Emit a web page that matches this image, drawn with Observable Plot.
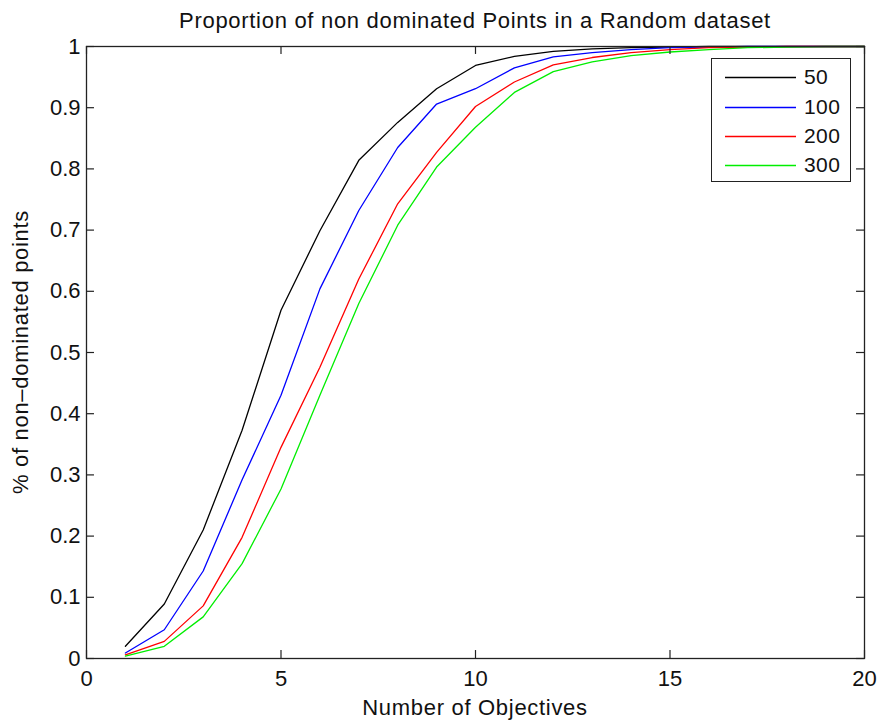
<!DOCTYPE html>
<html>
<head>
<meta charset="utf-8">
<script src="https://cdn.jsdelivr.net/npm/d3@7"></script>
<script src="https://cdn.jsdelivr.net/npm/@observablehq/plot@0.6"></script>
<style>
  body { margin: 0; background: #fff; }
  #wrap { position: relative; width: 879px; height: 721px; font-family: "Liberation Sans", Arial, sans-serif; color: #111; }
  #title { position: absolute; left: 86px; width: 778px; top: 10px; line-height: 22px; font-size: 22px; letter-spacing: 0.7px; text-align: center; white-space: nowrap; }
  #chart { position: absolute; left: 0; top: 40px; }
  #xlabel { position: absolute; left: 86px; width: 778px; top: 697px; line-height: 22px; font-size: 22px; letter-spacing: 0.7px; text-align: center; white-space: nowrap; }
  #ylabel { position: absolute; left: 21px; top: 352px; font-size: 22px; line-height: 22px; letter-spacing: 0.7px; white-space: nowrap; transform: translate(-50%, -50%) rotate(-90deg); }
  #legend { position: absolute; left: 711px; top: 58px; width: 140px; height: 124px; border: 1.3px solid #222; background: #fff; box-sizing: border-box; }
  .row { position: absolute; left: 0; height: 24px; width: 140px; }
  .row svg { position: absolute; left: 13px; top: 11px; }
  .row span { position: absolute; left: 92px; top: 0; font-size: 21px; line-height: 24px; letter-spacing: 0.4px; }
</style>
</head>
<body>
<div id="wrap">
  <div id="title"></div>
  <div id="chart"></div>
  <div id="xlabel"></div>
  <div id="ylabel"></div>
  <div id="legend"></div>
</div>
<script>
// Number of objectives (dimensions) tested
const objectives = [1, 2, 3, 4, 5, 6, 7, 8, 9, 10, 11, 12, 13, 14, 15, 16, 17, 18, 19, 20];

// Fraction of non-dominated points for each dataset size
const points50  = [0.020, 0.089, 0.210, 0.373, 0.569, 0.699, 0.814, 0.876, 0.931, 0.969, 0.984, 0.992, 0.996, 0.998, 0.999, 1.000, 1.000, 1.000, 1.000, 1.000];
const points100 = [0.009, 0.047, 0.143, 0.292, 0.430, 0.604, 0.732, 0.835, 0.906, 0.931, 0.965, 0.983, 0.990, 0.995, 0.998, 0.999, 1.000, 1.000, 1.000, 1.000];
const points200 = [0.006, 0.028, 0.086, 0.198, 0.345, 0.476, 0.620, 0.743, 0.827, 0.902, 0.942, 0.970, 0.982, 0.990, 0.995, 0.998, 0.999, 1.000, 1.000, 1.000];
const points300 = [0.004, 0.020, 0.068, 0.155, 0.277, 0.430, 0.580, 0.708, 0.803, 0.868, 0.925, 0.959, 0.975, 0.985, 0.991, 0.995, 0.998, 0.999, 1.000, 1.000];

const seriesNames = ["50", "100", "200", "300"];
const seriesValues = [points50, points100, points200, points300];
const seriesColors = ["#000000", "#0000ff", "#ff0000", "#00ee00"];

const xTicks = [0, 5, 10, 15, 20];
const yTicks = [0, 0.1, 0.2, 0.3, 0.4, 0.5, 0.6, 0.7, 0.8, 0.9, 1];

const titleText = "Proportion of non dominated Points in a Random dataset";
const xLabelText = "Number of Objectives";
const yLabelText = "% of non\u2013dominated points";

// Long-format table for the line marks
const rows = seriesNames.flatMap((name, i) =>
  objectives.map((x, j) => ({series: name, x, y: seriesValues[i][j]}))
);

const xDomain = [0, 20];
const yDomain = [0, 1];
// inward tick length expressed in data units (about 8px)
const xTickLen = 0.205;
const yTickLen = 0.013;

const chart = Plot.plot({
  width: 879,
  height: 681,
  marginLeft: 86,
  marginRight: 15,
  marginTop: 6,
  marginBottom: 63,
  style: {fontFamily: "Liberation Sans, Arial, sans-serif", fontSize: "22px", color: "#111", overflow: "visible"},
  x: {domain: xDomain},
  y: {domain: yDomain},
  color: {domain: seriesNames, range: seriesColors},
  marks: [
    Plot.line(rows, {x: "x", y: "y", z: "series", stroke: "series", strokeWidth: 1.3}),
    // inward ticks on all four sides
    Plot.ruleY(yTicks, {y: d => d, x1: xDomain[0], x2: xDomain[0] + xTickLen, stroke: "#222", strokeWidth: 1.2}),
    Plot.ruleY(yTicks, {y: d => d, x1: xDomain[1] - xTickLen, x2: xDomain[1], stroke: "#222", strokeWidth: 1.2}),
    Plot.ruleX(xTicks, {x: d => d, y1: yDomain[0], y2: yDomain[0] + yTickLen, stroke: "#222", strokeWidth: 1.2}),
    Plot.ruleX(xTicks, {x: d => d, y1: yDomain[1] - yTickLen, y2: yDomain[1], stroke: "#222", strokeWidth: 1.2}),
    Plot.axisX(xTicks, {anchor: "bottom", tickSize: 0, tickPadding: 12, label: null, tickFormat: d => String(d), fontSize: 22, letterSpacing: 0.7}),
    Plot.axisY(yTicks, {anchor: "left", tickSize: 0, tickPadding: 6, label: null, tickFormat: d => String(d), fontSize: 22, letterSpacing: 0.7}),
    Plot.frame({stroke: "#222", strokeWidth: 1.3})
  ]
});
document.getElementById("chart").appendChild(chart);

document.getElementById("title").textContent = titleText;
document.getElementById("xlabel").textContent = xLabelText;
document.getElementById("ylabel").textContent = yLabelText;

// Legend: line sample + series name
const legend = document.getElementById("legend");
const rowCenters = [18, 48, 77, 106];
seriesNames.forEach((name, i) => {
  const row = document.createElement("div");
  row.className = "row";
  row.style.top = (rowCenters[i] - 12) + "px";
  row.innerHTML = `<svg width="72" height="3"><line x1="0" y1="1.5" x2="71" y2="1.5" stroke="${seriesColors[i]}" stroke-width="1.3"/></svg><span>${name}</span>`;
  legend.appendChild(row);
});
</script>
</body>
</html>
